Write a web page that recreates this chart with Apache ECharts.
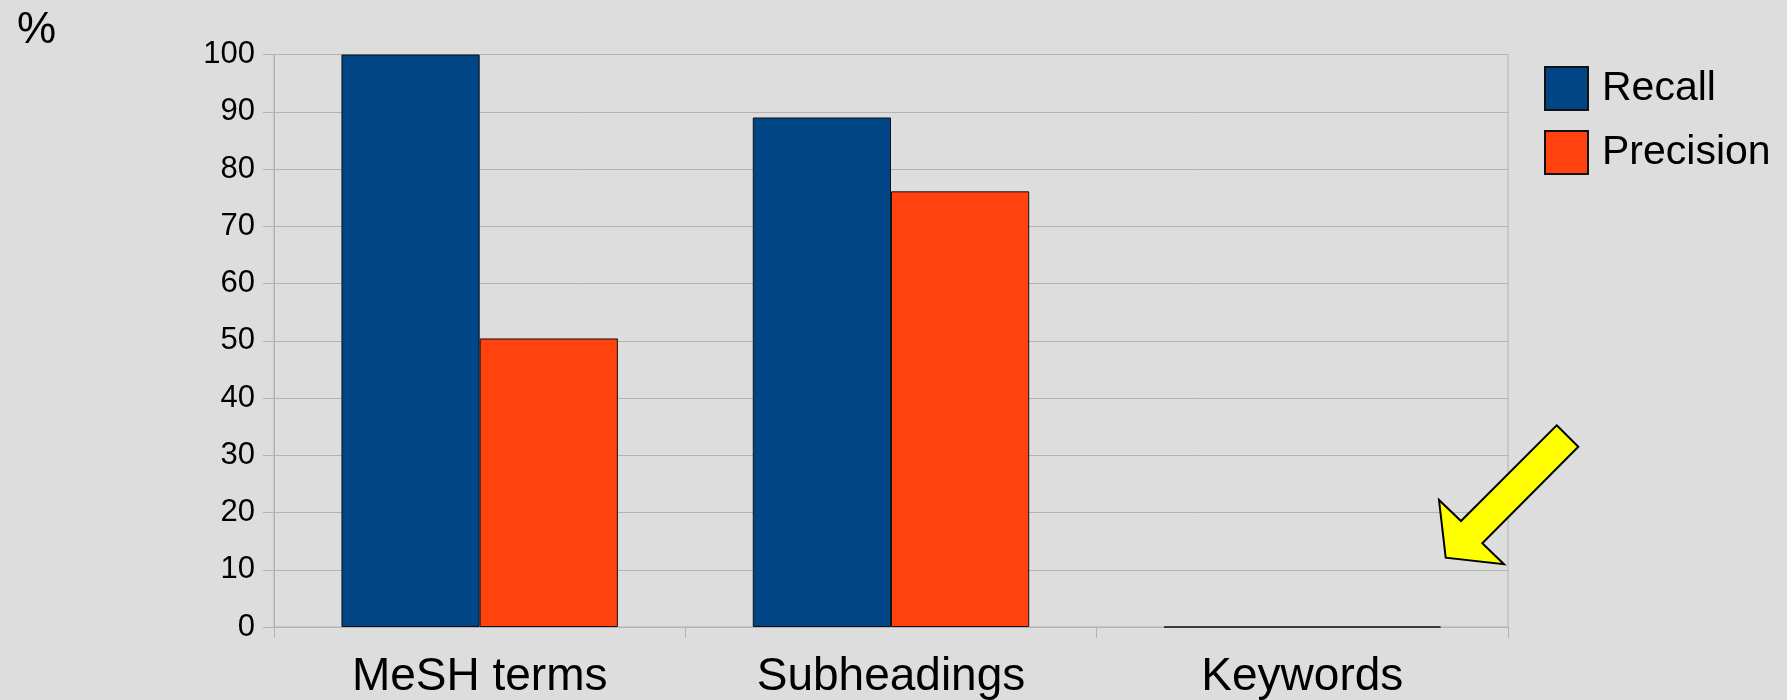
<!DOCTYPE html>
<html>
<head>
<meta charset="utf-8">
<script src="https://cdn.jsdelivr.net/npm/echarts@6/dist/echarts.min.js"></script>
<style>
html,body{margin:0;padding:0;background:#dddddd;}
#chart{width:1787px;height:700px;}
</style>
</head>
<body>
<div id="chart"></div>
<script>
const categories = ['MeSH terms', 'Subheadings', 'Keywords'];
const recall = [100, 89, 0];
const precision = [50.4, 76.1, 0];
const yTicks = [0, 10, 20, 30, 40, 50, 60, 70, 80, 90, 100];

const chart = echarts.init(document.getElementById('chart'), null, {renderer: 'canvas'});
const FONT = '"Liberation Sans", Arial, sans-serif';
const GRIDC = '#b3b3b3';

chart.setOption({
  backgroundColor: '#dddddd',
  animation: false,
  textStyle: {fontFamily: FONT, color: '#000'},
  grid: {
    left: 274, top: 54.5, width: 1234, height: 574,
    show: true, borderColor: GRIDC, borderWidth: 1, backgroundColor: 'transparent'
  },
  legend: {
    orient: 'vertical',
    left: 1539, top: 61,
    itemWidth: 43, itemHeight: 43, itemGap: 19,
    icon: 'rect',
    textStyle: {fontFamily: FONT, fontSize: 41, color: '#000', padding: [0, 0, 0, 9]},
    data: ['Recall', 'Precision']
  },
  xAxis: {
    type: 'category',
    data: categories,
    axisLine: {show: true, lineStyle: {color: GRIDC, width: 1}},
    axisTick: {show: true, length: 11, alignWithLabel: false, lineStyle: {color: GRIDC}},
    axisLabel: {fontFamily: FONT, fontSize: 46, color: '#000', margin: 27},
    splitLine: {show: false}
  },
  yAxis: {
    type: 'value',
    min: yTicks[0], max: yTicks[yTicks.length - 1], interval: 10,
    axisLine: {show: true, lineStyle: {color: GRIDC, width: 1}},
    axisTick: {show: true, length: 11, lineStyle: {color: GRIDC}},
    axisLabel: {fontFamily: FONT, fontSize: 31, color: '#000', margin: 19},
    splitLine: {show: true, lineStyle: {color: GRIDC, width: 1}}
  },
  series: [
    {
      name: 'Recall', type: 'bar', data: recall,
      barGap: '0%', barCategoryGap: '32.8%',
      itemStyle: {color: '#004586', borderColor: '#111', borderWidth: 1}
    },
    {
      name: 'Precision', type: 'bar', data: precision,
      barGap: '0%', barCategoryGap: '32.8%',
      itemStyle: {color: '#ff420e', borderColor: '#111', borderWidth: 1}
    }
  ],
  graphic: [
    {
      type: 'text', left: 17, top: 9,
      style: {text: '%', fontFamily: FONT, fontSize: 44, fill: '#000'}
    },
    {
      type: 'polygon',
      shape: {points: [
        [1556.7, 425.3], [1578.3, 446.7], [1482.3, 543.3], [1504, 564.3],
        [1445.7, 557.7], [1439, 500], [1461, 521]
      ]},
      style: {fill: '#ffff00', stroke: '#000', lineWidth: 2, lineJoin: 'miter'},
      z: 100
    }
  ]
});
</script>
</body>
</html>
